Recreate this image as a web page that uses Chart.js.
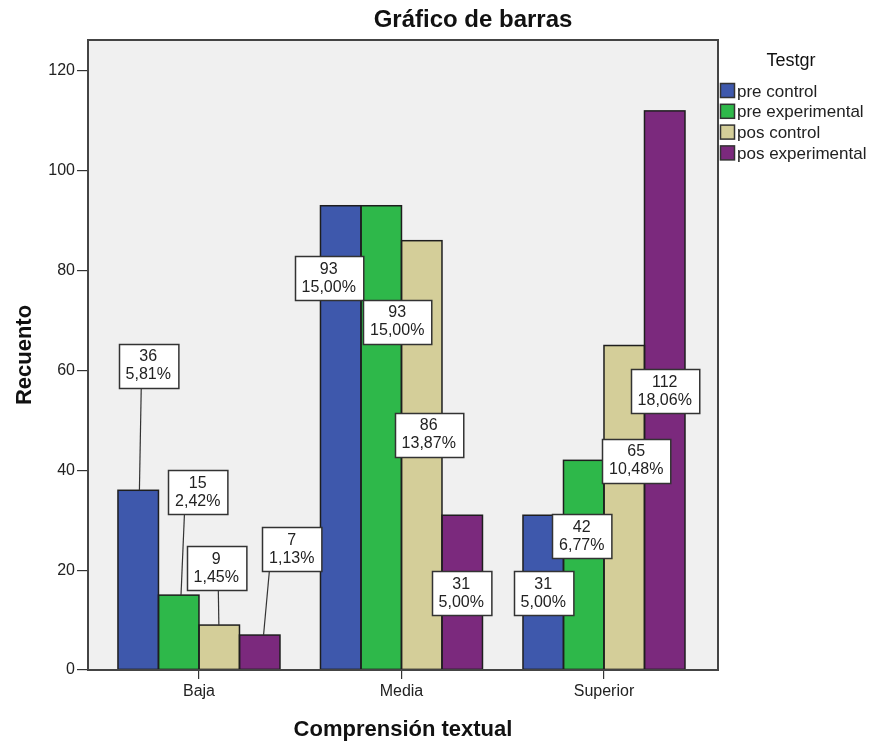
<!DOCTYPE html>
<html>
<head>
<meta charset="utf-8">
<title>Gráfico de barras</title>
<script src="https://cdn.jsdelivr.net/npm/chart.js@4.4.1/dist/chart.umd.min.js"></script>
<style>
  html, body { margin: 0; padding: 0; background: #ffffff; }
  #chart { display: block; }
</style>
</head>
<body>
<canvas id="chart" width="869" height="745"></canvas>
<script>
// ========== DATA ==========
const categories = ["Baja", "Media", "Superior"];
const seriesNames = ["pre control", "pre experimental", "pos control", "pos experimental"];
const preControl = [36, 93, 31];
const preExperimental = [15, 93, 42];
const posControl = [9, 86, 65];
const posExperimental = [7, 31, 112];
const yTicks = [0, 20, 40, 60, 80, 100, 120];

const seriesValues = [preControl, preExperimental, posControl, posExperimental];
const seriesColors = ["#3e58ac", "#2eb84a", "#d4ce99", "#7b297d"];
const total = seriesValues.flat().reduce((a, b) => a + b, 0);

// where SPSS put each value box: x shift (px) from the bar, centre height in Recuento units
const labelDx = [[10, -12, 0], [19, 16, -2], [-3, 7, 12], [32, -1, 0]];
const labelAt = [[60.9, 78.5, 15.4], [35.6, 69.8, 26.8], [20.4, 47.1, 41.9], [24.2, 15.4, 55.8]];

const FONT = "'Liberation Sans', Arial, sans-serif";
const INK = "#222222";

function pct(v) {
  return (v / total * 100).toFixed(2).replace(".", ",") + "%";
}

// ========== PLUGINS ==========
const frame = {
  id: "frame",
  beforeDraw(chart) {
    const { ctx, chartArea: a } = chart;
    ctx.save();
    ctx.fillStyle = "#ffffff";
    ctx.fillRect(0, 0, chart.width, chart.height);
    ctx.fillStyle = "#f0f0f0";
    ctx.fillRect(a.left, a.top, a.right - a.left, a.bottom - a.top);
    ctx.restore();
  },
  afterDatasetsDraw(chart) {
    const { ctx, chartArea: a } = chart;
    ctx.save();
    // dark outline round every bar
    ctx.strokeStyle = "#1e1e1e";
    ctx.lineWidth = 1.5;
    seriesValues.forEach((vals, d) => {
      chart.getDatasetMeta(d).data.forEach((bar) => {
        const l = bar.x - bar.width / 2;
        ctx.strokeRect(l, bar.y, bar.width, bar.base - bar.y);
      });
    });
    ctx.strokeStyle = "#444444";
    ctx.lineWidth = 2;
    ctx.strokeRect(a.left, a.top, a.right - a.left, a.bottom - a.top);
    ctx.restore();
  },
};

const valueBoxes = {
  id: "valueBoxes",
  afterDatasetsDraw(chart) {
    const ctx = chart.ctx;
    const y = chart.scales.y;
    ctx.save();
    ctx.font = "16px " + FONT;
    ctx.textAlign = "center";
    ctx.textBaseline = "middle";
    seriesValues.forEach((vals, d) => {
      const bars = chart.getDatasetMeta(d).data;
      vals.forEach((v, i) => {
        const bar = bars[i];
        const l1 = String(v);
        const l2 = pct(v);
        const w = Math.max(ctx.measureText(l1).width, ctx.measureText(l2).width) + 14;
        const h = 44;
        const cx = bar.x + labelDx[d][i];
        const cy = y.getPixelForValue(labelAt[d][i]);
        const left = Math.round(cx - w / 2) + 0.5;
        const top = Math.round(cy - h / 2) + 0.5;

        // leader line when the box floats above its bar
        if (top + h < bar.y) {
          const off = cx - bar.x;
          const tx = Math.min(left + w - 3, Math.max(left + 3, bar.x + off * 0.3));
          ctx.strokeStyle = "#333333";
          ctx.lineWidth = 1.2;
          ctx.beginPath();
          ctx.moveTo(tx, top + h);
          ctx.lineTo(bar.x + off * 0.12, bar.y);
          ctx.stroke();
        }

        ctx.fillStyle = "#ffffff";
        ctx.fillRect(left, top, w, h);
        ctx.strokeStyle = "#333333";
        ctx.lineWidth = 1.5;
        ctx.strokeRect(left, top, w, h);
        ctx.fillStyle = INK;
        ctx.fillText(l1, cx, cy - 9);
        ctx.fillText(l2, cx, cy + 9);
      });
    });
    ctx.restore();
  },
};

const texts = {
  id: "texts",
  afterDraw(chart) {
    const ctx = chart.ctx;
    const a = chart.chartArea;
    ctx.save();
    ctx.fillStyle = "#111111";

    // title
    ctx.font = "bold 24px " + FONT;
    ctx.textAlign = "center";
    ctx.textBaseline = "alphabetic";
    ctx.fillText("Gráfico de barras", 473, 27);

    // axis titles
    ctx.font = "bold 22px " + FONT;
    ctx.fillText("Comprensión textual", (a.left + a.right) / 2, 736);
    ctx.save();
    ctx.translate(31, (a.top + a.bottom) / 2);
    ctx.rotate(-Math.PI / 2);
    ctx.fillText("Recuento", 0, 0);
    ctx.restore();

    // legend
    ctx.font = "18px " + FONT;
    ctx.textBaseline = "middle";
    ctx.fillText("Testgr", 791, 61);
    ctx.font = "17px " + FONT;
    ctx.textAlign = "left";
    seriesNames.forEach((name, k) => {
      const ry = 91 + k * 20.8;
      ctx.fillStyle = seriesColors[k];
      ctx.fillRect(720.5, ry - 7.5, 14, 14);
      ctx.strokeStyle = "#333333";
      ctx.lineWidth = 1.5;
      ctx.strokeRect(720.5, ry - 7.5, 14, 14);
      ctx.fillStyle = INK;
      ctx.fillText(name, 737, ry + 1);
    });
    ctx.restore();
  },
};

// ========== CHART ==========
const datasets = seriesValues.map((vals, d) => ({
  label: seriesNames[d],
  data: vals.map((v, i) => ({ x: i, y: v })),
  backgroundColor: seriesColors[d],
  borderWidth: 0,
  categoryPercentage: 0.8,
  barPercentage: 1.0,
}));

new Chart(document.getElementById("chart"), {
  type: "bar",
  data: { datasets },
  options: {
    responsive: false,
    animation: false,
    layout: { padding: { left: 0, right: 151, top: 40, bottom: 0 } },
    plugins: {
      legend: { display: false },
      title: { display: false },
      tooltip: { enabled: false },
    },
    scales: {
      x: {
        type: "linear",
        min: -0.548,
        max: 2.563,
        offset: false,
        afterFit: (s) => { s.height = 75; },
        afterBuildTicks: (s) => { s.ticks = categories.map((c, i) => ({ value: i })); },
        grid: { offset: false, drawOnChartArea: false, drawTicks: true, tickLength: 9, color: "#333333", lineWidth: 1.2 },
        border: { display: false },
        ticks: {
          padding: 3,
          color: INK,
          font: { family: FONT, size: 16 },
          callback: (v) => categories[v] ?? "",
        },
      },
      y: {
        min: 0,
        max: 126.2,
        afterFit: (s) => { s.width = 88; },
        afterBuildTicks: (s) => { s.ticks = yTicks.map((v) => ({ value: v })); },
        grid: { drawOnChartArea: false, drawTicks: true, tickLength: 11, color: "#333333", lineWidth: 1.2 },
        border: { display: false },
        ticks: {
          padding: 2,
          color: INK,
          font: { family: FONT, size: 16 },
        },
      },
    },
  },
  plugins: [frame, valueBoxes, texts],
});
</script>
</body>
</html>
